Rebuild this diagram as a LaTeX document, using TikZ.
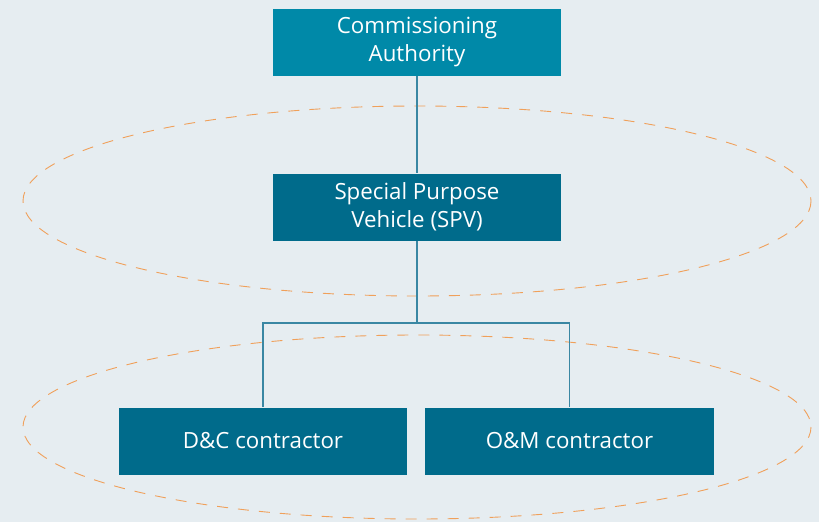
\documentclass[tikz,border=0pt]{standalone}
\usepackage{fontspec}
\setmainfont{Open Sans}
\definecolor{bgblue}{HTML}{E6EDF1}
\definecolor{topteal}{HTML}{0089A8}
\definecolor{darkteal}{HTML}{006B8B}
\definecolor{linkblue}{HTML}{3A87A3}
\definecolor{dashorange}{HTML}{F0A05A}
\tikzset{
    orgbox/.style={rectangle,fill=darkteal,text=white,minimum width=288pt,minimum height=67pt,align=center,inner sep=0pt,font=\fontsize{22.3}{28}\selectfont},
    link/.style={draw=linkblue,line width=1.1pt},
    group/.style={draw=dashorange,line width=0.9pt,dash pattern=on 11pt off 10pt}
}
\begin{document}
\begin{tikzpicture}[x=1pt,y=-1pt]
        \fill[bgblue] (0,0) rectangle (819,522);
        \useasboundingbox (0,0) rectangle (819,522);

        \draw[group] (417,201) ellipse [x radius=394,y radius=95];
        \draw[group] (417,427) ellipse [x radius=394,y radius=92];

        \node[orgbox,fill=topteal] (CA) at (417,42) {Commissioning\\Authority};
        \node[orgbox] (SPV) at (417,207) {Special Purpose\\Vehicle (SPV)};
        \node[orgbox] (DC) at (263,441) {D\&C contractor};
        \node[orgbox,minimum width=289pt] (OM) at (569.5,441) {O\&M contractor};
        \coordinate (split) at (417,323);

        \draw[link] (CA.south) -- (SPV.north);
        \draw[link] (SPV.south) -- (split);
        \draw[link] (split) -| (DC.north);
        \draw[link] (split) -| (OM.north);

    \end{tikzpicture}
\end{document}
